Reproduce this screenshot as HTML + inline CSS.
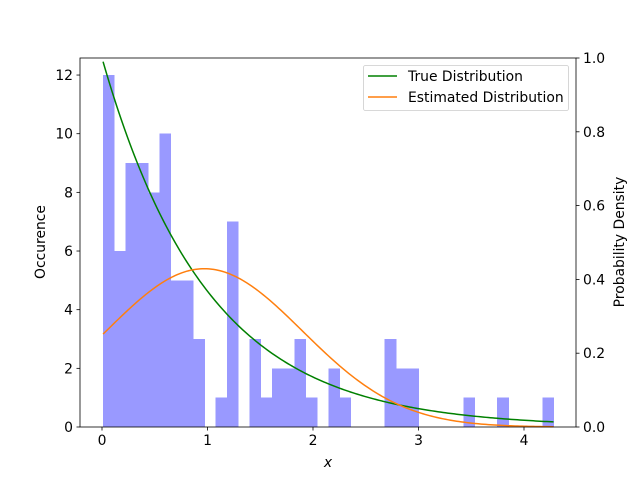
<!DOCTYPE html>
<html><head><meta charset="utf-8"><style>
body{margin:0;background:#fff}
svg text{font-family:"DejaVu Sans","Liberation Sans",sans-serif;fill:#000}
</style></head><body>
<svg id="c" width="640" height="480" viewBox="0 0 640 480" xmlns="http://www.w3.org/2000/svg"></svg>
<script>
const binCounts=[12,6,9,9,8,10,5,5,3,0,1,7,0,3,1,2,2,3,1,0,2,1,0,0,0,3,2,2,0,0,0,0,1,0,0,1,0,0,0,1];
const binRange=[0.01,4.28];
const trueRate=[1.0];
const estParams=[0.97,0.93];
const xTicks=[0,1,2,3,4];
const yTicks=[0,2,4,6,8,10,12];
const y2Ticks=[0,0.2,0.4,0.6,0.8,1.0];
const y2Labels=["0.0","0.2","0.4","0.6","0.8","1.0"];

const L=80,R=576,T=58,B=427;
const X=v=>102+(v-0)*105.5;
const Y=v=>B-v*29.33;
const Y2=v=>B-v*(B-T);
const svg=document.getElementById('c');
const NS='http://www.w3.org/2000/svg';
function mk(t,a,p){const e=document.createElementNS(NS,t);for(const k in a)e.setAttribute(k,a[k]);(p||svg).appendChild(e);return e;}
const FS=13.9;
const bw=(binRange[1]-binRange[0])/binCounts.length;
binCounts.forEach((c,i)=>{
  if(!c)return;
  const x0=X(binRange[0]+i*bw),x1=X(binRange[0]+(i+1)*bw);
  const r=mk('rect',{x:x0,y:Y(c),width:x1-x0+0.4,height:B-Y(c),fill:'#9999ff','shape-rendering':'crispEdges'});
  
  
});
function curve(f,color,name){
  let d='';
  for(let i=0;i<=200;i++){const x=binRange[0]+(binRange[1]-binRange[0])*i/200;d+=(i?'L':'M')+X(x).toFixed(2)+','+Y2(f(x)).toFixed(2);}
  const p=mk('path',{d:d,fill:'none',stroke:color,'stroke-width':1.5});
  
  
}
curve(x=>trueRate[0]*Math.exp(-trueRate[0]*x),'#008000','true-distribution-line');
curve(x=>Math.exp(-Math.pow(x-estParams[0],2)/(2*estParams[1]*estParams[1]))/(Math.sqrt(2*Math.PI)*estParams[1]),'#ff7f0e','estimated-distribution-line');

const fr=mk('rect',{x:L,y:T,width:R-L,height:B-T,fill:'none',stroke:'#000','stroke-width':0.8});



xTicks.forEach(v=>{
  mk('line',{x1:X(v),x2:X(v),y1:B,y2:B+3.5,stroke:'#000','stroke-width':0.8});
  const t=mk('text',{x:X(v),y:B+18,'text-anchor':'middle','font-size':FS});t.textContent=v;
  
  
});
yTicks.forEach(v=>{
  mk('line',{x1:L-3.5,x2:L,y1:Y(v),y2:Y(v),stroke:'#000','stroke-width':0.8});
  const t=mk('text',{x:L-7,y:Y(v)+5,'text-anchor':'end','font-size':FS});t.textContent=v;
  
  
});
y2Ticks.forEach((v,i)=>{
  mk('line',{x1:R,x2:R+3.5,y1:Y2(v),y2:Y2(v),stroke:'#000','stroke-width':0.8});
  const t=mk('text',{x:R+7,y:Y2(v)+5,'font-size':FS});t.textContent=y2Labels[i];
  
  
});
let t=mk('text',{x:328,y:467,'text-anchor':'middle','font-size':FS,'font-style':'italic'});t.textContent='x';

t=mk('text',{x:0,y:0,'text-anchor':'middle','font-size':FS,transform:'translate(45,242) rotate(-90)'});t.textContent='Occurence';

t=mk('text',{x:0,y:0,'text-anchor':'middle','font-size':FS,transform:'translate(624,242) rotate(-90)'});t.textContent='Probability Density';


const lg=mk('g',{});


mk('rect',{x:363.5,y:65.5,width:205,height:45,rx:2,fill:'#fff','fill-opacity':0.8,stroke:'#ccc','stroke-width':0.8},lg);
[['True Distribution','#008000',76],['Estimated Distribution','#ff7f0e',97]].forEach(([s,c,y])=>{
  const g=mk('g',{},lg);
  
  
  mk('line',{x1:368,x2:397,y1:y,y2:y,stroke:c,'stroke-width':1.5},g);
  const tt=mk('text',{x:408,y:y+5,'font-size':FS},g);tt.textContent=s;
});
</script>
</body></html>
